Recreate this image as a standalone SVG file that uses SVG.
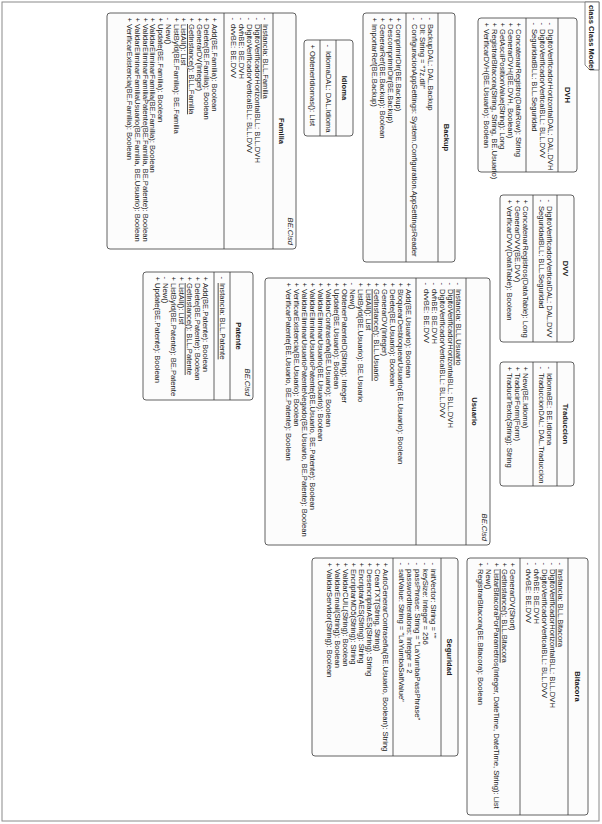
<svg xmlns="http://www.w3.org/2000/svg" width="602" height="824" viewBox="0 0 602 824">
<style>
.bx{fill:#fcfcfc;stroke:#3a3a3a;stroke-width:0.8}
.sp{stroke:#3a3a3a;stroke-width:0.8;fill:none}
text{font-family:"Liberation Sans",Arial,sans-serif;font-size:7.6px;fill:#1a1a1a}
.ti{font-weight:bold;text-anchor:middle}
.ns{font-style:italic;text-anchor:end}
.u{text-decoration:underline}
.fr{fill:#fff;stroke:#8a8a8a;stroke-width:1}
.tab{fill:#fff;stroke:#6a6a6a;stroke-width:0.8}
</style>
<rect x="0" y="0" width="602" height="824" fill="#fff"/>
<g transform="translate(602,0) rotate(90)">
<g id="frame">
<rect class="fr" x="2" y="3" width="819" height="597"/>
<polygon class="tab" points="2,3 70,3 70,12 65,17 2,17"/>
<text x="5" y="13" style="font-weight:bold">class Class Model</text>
</g>

<g id="DVH" transform="translate(18,25)">
<rect class="bx" x="0" y="0" width="154" height="99" rx="3"/>
<line class="sp" x1="0" y1="19" x2="154" y2="19"/>
<line class="sp" x1="0" y1="51" x2="154" y2="51"/>
<text class="ti" x="77" y="12.5">DVH</text>
<text x="4.5" y="29.5">-</text><text x="11" y="29.5">DigitoVerificadorHorizontalDAL: DAL.DVH</text>
<text x="4.5" y="37.5">-</text><text x="11" y="37.5">DigitoVerificadorVerticalBLL: BLL.DVV</text>
<text x="4.5" y="45.5">-</text><text x="11" y="45.5">SeguridadBLL: BLL.Seguridad</text>
<text x="4.5" y="61.5">+</text><text x="11" y="61.5">ConcatenarRegistro(DataRow): String</text>
<text x="4.5" y="69.5">+</text><text x="11" y="69.5">GenerarDVH(BE.DVH, Boolean)</text>
<text x="4.5" y="77.5">+</text><text x="11" y="77.5">GetAsciiPositionValue(String): Long</text>
<text x="4.5" y="85.5">+</text><text x="11" y="85.5">RegistrarBitacora(String, String, BE.Usuario)</text>
<text x="4.5" y="93.5">+</text><text x="11" y="93.5">VerificarDVH(BE.Usuario): Boolean</text>
</g>

<g id="DVV" transform="translate(195,28)">
<rect class="bx" x="0" y="0" width="147" height="74" rx="3"/>
<line class="sp" x1="0" y1="17" x2="147" y2="17"/>
<line class="sp" x1="0" y1="41" x2="147" y2="41"/>
<text class="ti" x="73.5" y="11.5">DVV</text>
<text x="4.5" y="27.5">-</text><text x="11" y="27.5">DigitoVerificadorVerticalDAL: DAL.DVV</text>
<text x="4.5" y="35.5">-</text><text x="11" y="35.5">SeguridadBLL: BLL.Seguridad</text>
<text x="4.5" y="51.5">+</text><text x="11" y="51.5">ConcatenarRegistros(DataTable): Long</text>
<text x="4.5" y="59.5">+</text><text x="11" y="59.5">GenerarDVV(BE.DVV)</text>
<text x="4.5" y="67.5">+</text><text x="11" y="67.5">VerificarDVV(DataTable): Boolean</text>
</g>

<g id="Traduccion" transform="translate(362,28)">
<rect class="bx" x="0" y="0" width="124" height="74" rx="3"/>
<line class="sp" x1="0" y1="17" x2="124" y2="17"/>
<line class="sp" x1="0" y1="41" x2="124" y2="41"/>
<text class="ti" x="62" y="11.5">Traduccion</text>
<text x="4.5" y="27.5">-</text><text x="11" y="27.5">IdiomaBE: BE.Idioma</text>
<text x="4.5" y="35.5">-</text><text x="11" y="35.5">TraduccionDAL: DAL.Traduccion</text>
<text x="4.5" y="51.5">+</text><text x="11" y="51.5">New(BE.Idioma)</text>
<text x="4.5" y="59.5">+</text><text x="11" y="59.5">TraducirForm(Form)</text>
<text x="4.5" y="67.5">+</text><text x="11" y="67.5">TraducirTexto(String): String</text>
</g>

<g id="Bitacora" transform="translate(558,14)">
<rect class="bx" x="0" y="0" width="257" height="121" rx="3"/>
<line class="sp" x1="0" y1="20" x2="257" y2="20"/>
<line class="sp" x1="0" y1="68" x2="257" y2="68"/>
<text class="ti" x="128.5" y="13">Bitacora</text>
<text x="4.5" y="30.5">-</text><text class="u" x="11" y="30.5">Instancia: BLL.Bitacora</text>
<text x="4.5" y="38.5">-</text><text x="11" y="38.5">DigitoVerificadorHorizontalBLL: BLL.DVH</text>
<text x="4.5" y="46.5">-</text><text x="11" y="46.5">DigitoVerificadorVerticalBLL: BLL.DVV</text>
<text x="4.5" y="54.5">-</text><text x="11" y="54.5">dvhBE: BE.DVH</text>
<text x="4.5" y="62.5">-</text><text x="11" y="62.5">dvvBE: BE.DVV</text>
<text x="4.5" y="78.5">+</text><text x="11" y="78.5">GenerarDV(Short)</text>
<text x="4.5" y="86.5">+</text><text class="u" x="11" y="86.5">GetInstance(): BLL.Bitacora</text>
<text x="4.5" y="94.5">+</text><text x="11" y="94.5">ListarBitacoraPorParametros(Integer, DateTime, DateTime, String): List</text>
<text x="4.5" y="102.5">-</text><text x="11" y="102.5">New()</text>
<text x="4.5" y="110.5">+</text><text x="11" y="110.5">RegistrarBitacora(BE.Bitacora): Boolean</text>
</g>

<g id="Seguridad" transform="translate(558,144)">
<rect class="bx" x="0" y="0" width="198" height="146" rx="3"/>
<line class="sp" x1="0" y1="17" x2="198" y2="17"/>
<line class="sp" x1="0" y1="65" x2="198" y2="65"/>
<text class="ti" x="99" y="11.5">Seguridad</text>
<text x="4.5" y="27.5">-</text><text x="11" y="27.5">initVector: String = ""</text>
<text x="4.5" y="35.5">-</text><text x="11" y="35.5">keySize: Integer = 256</text>
<text x="4.5" y="43.5">-</text><text x="11" y="43.5">passPhrase: String = "LaYumbaPassPhrase"</text>
<text x="4.5" y="51.5">-</text><text x="11" y="51.5">passwordIterations: Integer = 2</text>
<text x="4.5" y="59.5">-</text><text x="11" y="59.5">saltValue: String = "LaYumbaSaltValue"</text>
<text x="4.5" y="75.5">+</text><text x="11" y="75.5">AutoGenerarContraseña(BE.Usuario, Boolean): String</text>
<text x="4.5" y="83.5">+</text><text x="11" y="83.5">CrearTXT(String, String)</text>
<text x="4.5" y="91.5">+</text><text x="11" y="91.5">DesencriptarAES(String): String</text>
<text x="4.5" y="99.5">+</text><text x="11" y="99.5">EncriptarAES(String): String</text>
<text x="4.5" y="107.5">+</text><text x="11" y="107.5">EncriptarMD5(String): String</text>
<text x="4.5" y="115.5">+</text><text x="11" y="115.5">ValidarCUIL(String): Boolean</text>
<text x="4.5" y="123.5">+</text><text x="11" y="123.5">ValidarEmail(String): Boolean</text>
<text x="4.5" y="131.5">+</text><text x="11" y="131.5">ValidarServidor(String): Boolean</text>
</g>

<g id="Usuario" transform="translate(278,112)">
<rect class="bx" x="0" y="0" width="267" height="225" rx="3"/>
<line class="sp" x1="0" y1="24" x2="267" y2="24"/>
<line class="sp" x1="0" y1="74" x2="267" y2="74"/>
<text class="ns" x="263" y="8">BE.Clsd</text>
<text class="ti" x="133.5" y="18">Usuario</text>
<text x="4.5" y="34.5">-</text><text class="u" x="11" y="34.5">Instancia: BLL.Usuario</text>
<text x="4.5" y="42.5">-</text><text x="11" y="42.5">DigitoVerificadorHorizontalBLL: BLL.DVH</text>
<text x="4.5" y="50.5">-</text><text x="11" y="50.5">DigitoVerificadorVerticalBLL: BLL.DVV</text>
<text x="4.5" y="58.5">-</text><text x="11" y="58.5">dvhBE: BE.DVH</text>
<text x="4.5" y="66.5">-</text><text x="11" y="66.5">dvvBE: BE.DVV</text>
<text x="4.5" y="84.5">+</text><text x="11" y="84.5">Add(BE.Usuario): Boolean</text>
<text x="4.5" y="92.5">+</text><text x="11" y="92.5">BloquearDesbloquearUsuario(BE.Usuario): Boolean</text>
<text x="4.5" y="100.5">+</text><text x="11" y="100.5">Delete(BE.Usuario): Boolean</text>
<text x="4.5" y="108.5">+</text><text x="11" y="108.5">GenerarDV(Integer)</text>
<text x="4.5" y="116.5">+</text><text class="u" x="11" y="116.5">GetInstance(): BLL.Usuario</text>
<text x="4.5" y="124.5">+</text><text x="11" y="124.5">ListAll(): List</text>
<text x="4.5" y="132.5">+</text><text x="11" y="132.5">ListById(BE.Usuario): BE.Usuario</text>
<text x="4.5" y="140.5">-</text><text x="11" y="140.5">New()</text>
<text x="4.5" y="148.5">+</text><text x="11" y="148.5">ObtenerPatenteID(String): Integer</text>
<text x="4.5" y="156.5">+</text><text x="11" y="156.5">Update(BE.Usuario): Boolean</text>
<text x="4.5" y="164.5">+</text><text x="11" y="164.5">ValidarContraseña(BE.Usuario): Boolean</text>
<text x="4.5" y="172.5">+</text><text x="11" y="172.5">ValidarEliminarUsuario(BE.Usuario): Boolean</text>
<text x="4.5" y="180.5">+</text><text x="11" y="180.5">ValidarEliminarUsuarioPatente(BE.Usuario, BE.Patente): Boolean</text>
<text x="4.5" y="188.5">+</text><text x="11" y="188.5">ValidarEliminarUsuarioPatenteNegado(BE.Usuario, BE.Patente): Boolean</text>
<text x="4.5" y="196.5">+</text><text x="11" y="196.5">VerificarExistencia(BE.Usuario): Boolean</text>
<text x="4.5" y="204.5">+</text><text x="11" y="204.5">VerificarPatente(BE.Usuario, BE.Patente): Boolean</text>
</g>

<g id="Backup" transform="translate(13,147)">
<rect class="bx" x="0" y="0" width="249" height="92" rx="3"/>
<line class="sp" x1="0" y1="17" x2="249" y2="17"/>
<line class="sp" x1="0" y1="49" x2="249" y2="49"/>
<text class="ti" x="124.5" y="11.5">Backup</text>
<text x="4.5" y="27.5">-</text><text x="11" y="27.5">BackupDAL: DAL.Backup</text>
<text x="4.5" y="35.5">-</text><text x="11" y="35.5">Dll: String = "7z.dll"</text>
<text x="4.5" y="43.5">-</text><text x="11" y="43.5">ConfiguracionAppSettings: System.Configuration.AppSettingsReader</text>
<text x="4.5" y="59.5">+</text><text x="11" y="59.5">ComprimirDir(BE.Backup)</text>
<text x="4.5" y="67.5">+</text><text x="11" y="67.5">DescomprimirDir(BE.Backup)</text>
<text x="4.5" y="75.5">+</text><text x="11" y="75.5">GenerarRef(BE.Backup): Boolean</text>
<text x="4.5" y="83.5">+</text><text x="11" y="83.5">ImportarRef(BE.Backup)</text>
</g>

<g id="Idioma" transform="translate(40,249)">
<rect class="bx" x="0" y="0" width="96" height="49" rx="3"/>
<line class="sp" x1="0" y1="17" x2="96" y2="17"/>
<line class="sp" x1="0" y1="33" x2="96" y2="33"/>
<text class="ti" x="48" y="11.5">Idioma</text>
<text x="4.5" y="27.5">-</text><text x="11" y="27.5">IdiomaDAL: DAL.Idioma</text>
<text x="4.5" y="43.5">+</text><text x="11" y="43.5">ObtenerIdiomas(): List</text>
</g>

<g id="Familia" transform="translate(13,306)">
<rect class="bx" x="0" y="0" width="236" height="189" rx="3"/>
<line class="sp" x1="0" y1="23" x2="236" y2="23"/>
<line class="sp" x1="0" y1="72" x2="236" y2="72"/>
<text class="ns" x="232" y="8">BE.Clsd</text>
<text class="ti" x="118" y="17.5">Familia</text>
<text x="4.5" y="33.5">-</text><text class="u" x="11" y="33.5">Instancia: BLL.Familia</text>
<text x="4.5" y="41.5">-</text><text x="11" y="41.5">DigitoVerificadorHorizontalBLL: BLL.DVH</text>
<text x="4.5" y="49.5">-</text><text x="11" y="49.5">DigitoVerificadorVerticalBLL: BLL.DVV</text>
<text x="4.5" y="57.5">-</text><text x="11" y="57.5">dvhBE: BE.DVH</text>
<text x="4.5" y="65.5">-</text><text x="11" y="65.5">dvvBE: BE.DVV</text>
<text x="4.5" y="84">+</text><text x="11" y="84">Add(BE.Familia): Boolean</text>
<text x="4.5" y="91.7">+</text><text x="11" y="91.7">Delete(BE.Familia): Boolean</text>
<text x="4.5" y="99.4">+</text><text x="11" y="99.4">GenerarDV(Integer)</text>
<text x="4.5" y="107.1">+</text><text class="u" x="11" y="107.1">GetInstance(): BLL.Familia</text>
<text x="4.5" y="114.8">+</text><text x="11" y="114.8">ListAll(): List</text>
<text x="4.5" y="122.5">+</text><text x="11" y="122.5">ListById(BE.Familia): BE.Familia</text>
<text x="4.5" y="130.2">-</text><text x="11" y="130.2">New()</text>
<text x="4.5" y="137.9">+</text><text x="11" y="137.9">Update(BE.Familia): Boolean</text>
<text x="4.5" y="145.6">+</text><text x="11" y="145.6">ValidarEliminarFamilia(BE.Familia): Boolean</text>
<text x="4.5" y="153.3">+</text><text x="11" y="153.3">ValidarEliminarFamiliaPatente(BE.Familia, BE.Patente): Boolean</text>
<text x="4.5" y="161">+</text><text x="11" y="161">ValidarEliminarFamiliaUsuario(BE.Familia, BE.Usuario): Boolean</text>
<text x="4.5" y="168.7">+</text><text x="11" y="168.7">VerificarExistencia(BE.Familia): Boolean</text>
</g>

<g id="Patente" transform="translate(272,349)">
<rect class="bx" x="0" y="0" width="128" height="110" rx="3"/>
<line class="sp" x1="0" y1="23" x2="128" y2="23"/>
<line class="sp" x1="0" y1="39" x2="128" y2="39"/>
<text class="ns" x="124" y="8">BE.Clsd</text>
<text class="ti" x="64" y="17.5">Patente</text>
<text x="4.5" y="33.5">-</text><text class="u" x="11" y="33.5">Instancia: BLL.Patente</text>
<text x="4.5" y="50.5">+</text><text x="11" y="50.5">Add(BE.Patente): Boolean</text>
<text x="4.5" y="58.5">+</text><text x="11" y="58.5">Delete(BE.Patente): Boolean</text>
<text x="4.5" y="66.5">+</text><text class="u" x="11" y="66.5">GetInstance(): BLL.Patente</text>
<text x="4.5" y="74.5">+</text><text x="11" y="74.5">ListAll(): List</text>
<text x="4.5" y="82.5">+</text><text x="11" y="82.5">ListById(BE.Patente): BE.Patente</text>
<text x="4.5" y="90.5">-</text><text x="11" y="90.5">New()</text>
<text x="4.5" y="98.5">+</text><text x="11" y="98.5">Update(BE.Patente): Boolean</text>
</g>
<g id="connectors"></g>
</g>
</svg>
